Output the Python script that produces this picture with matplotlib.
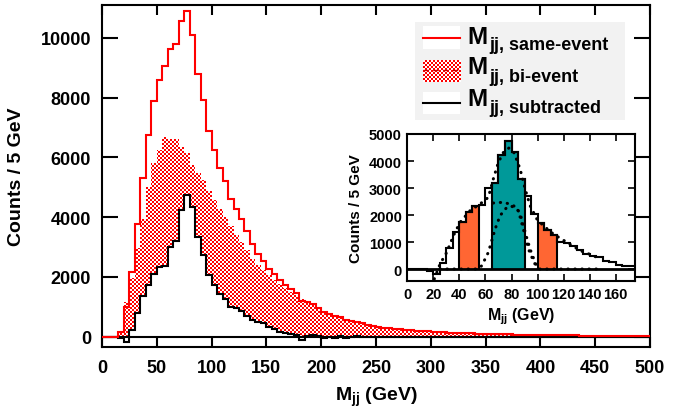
import numpy as np
import matplotlib
matplotlib.use('Agg')
import matplotlib.pyplot as plt
from matplotlib.patches import Rectangle
from matplotlib.lines import Line2D

plt.rcParams['font.family'] = ['Liberation Sans', 'DejaVu Sans']
plt.rcParams['font.weight'] = 'bold'
plt.rcParams['axes.labelweight'] = 'bold'
plt.rcParams['mathtext.fontset'] = 'custom'
plt.rcParams['mathtext.rm'] = 'Liberation Sans:bold'
plt.rcParams['mathtext.bf'] = 'Liberation Sans:bold'
plt.rcParams['mathtext.it'] = 'Liberation Sans:bold'
plt.rcParams['mathtext.default'] = 'bf'

# ---------------- data ----------------
bin_edges = list(range(0, 505, 5))   # 5 GeV bins, 0-500 GeV

same_event = [
    0, 0, 0, 140, 980, 2170, 3770, 5300, 6750, 7900,
    8590, 9050, 9630, 9800, 10560, 10890, 10080, 8790, 7920, 6890,
    6260, 5650, 5220, 4620, 4280, 3920, 3520, 3100, 2780, 2520,
    2250, 2100, 1900, 1720, 1580, 1450, 1180, 1150, 1080, 960,
    830, 760, 680, 650, 560, 530, 490, 440, 400, 360,
    320, 300, 280, 260, 240, 225, 210, 195, 185, 170,
    160, 150, 140, 132, 125, 117, 110, 105, 100, 95,
    90, 85, 80, 76, 72, 68, 65, 61, 58, 55,
    52, 49, 46, 43, 41, 39, 37, 35, 33, 31,
    29, 27, 26, 24, 23, 22, 20, 19, 18, 17]

bi_event = [
    0, 0, 0, 200, 1150, 1950, 2980, 3940, 5020, 5800,
    6250, 6690, 6620, 6620, 6340, 6140, 5730, 5460, 5250, 4880,
    4580, 4260, 4010, 3700, 3400, 3150, 2900, 2600, 2400, 2220,
    2050, 1900, 1760, 1610, 1490, 1380, 1270, 1130, 1040, 950,
    870, 790, 720, 640, 600, 550, 490, 450, 410, 370,
    330, 305, 282, 262, 243, 226, 211, 197, 185, 172,
    162, 151, 141, 133, 126, 118, 111, 106, 100, 96,
    91, 86, 81, 76, 72, 69, 65, 62, 58, 55,
    52, 49, 46, 43, 41, 39, 37, 35, 33, 31,
    29, 27, 26, 24, 23, 22, 20, 19, 18, 17]

subtracted = [
    0, 0, 0, -60, -190, 220, 790, 1360, 1730, 2100,
    2340, 2360, 3010, 3190, 4220, 4750, 4350, 3330, 2720, 2050,
    1710, 1440, 1260, 990, 960, 850, 700, 560, 490, 440,
    310, 250, 150, 120, 100, 60, -110, 20, 40, 10,
    -40, -30, -40, 10, -50, -20, 10, -10, -20, -10,
    0, -5, -2, -3, -3, -1, -1, -2, 0, -2,
    0, 0, 0, 0, 0, 0, 0, 0, 0, 0,
    0, 0, 0, 0, 0, 0, 0, 0, 0, 0,
    0, 0, 0, 0, 0, 0, 0, 0, 0, 0,
    0, 0, 0, 0, 0, 0, 0, 0, 0, 0]

# inset windows (GeV)
inset_xmax = 175
sideband_low = (40, 55)
signal_window = (65, 90)
sideband_high = (100, 115)

# dotted fit curves
fit_total_x = [20.6, 25, 30.2, 35.3, 40.4, 48.1, 55.8, 62.2, 66, 69.9, 73.8, 78, 82,
               86.6, 90.5, 94.3, 99.5, 104.5, 112.2, 122.6, 133.1, 143, 148.1]
fit_total_y = [-370, 185, 618, 1233, 1728, 2160, 2407, 2655, 3333, 3951, 4321, 4480, 4300,
               3704, 2963, 2345, 1852, 1605, 1296, 988, 678, 493, 370]
fit_sig_x = [25, 40, 54, 57.1, 62.2, 67.4, 71.2, 76.4, 80.2, 85.3, 89.1, 93, 96.8, 100]
fit_sig_y = [0, 0, 0, 120, 618, 1481, 1975, 2285, 2322, 2160, 1481, 740, 308, 0]
fit_bkg_x = [66, 70, 74, 79, 84, 88, 90.5, 94.3, 98.1, 100.7, 125, 150]
fit_bkg_y = [2444, 2460, 2470, 2400, 2285, 1852, 1358, 740, 250, 0, 0, 0]

legend_labels = ['jj, same-event', 'jj, bi-event', 'jj, subtracted']

# ---------------- figure ----------------
W, H = 686, 414
fig = plt.figure(figsize=(W / 100, H / 100), dpi=100)


def fig_rect(x0, y0, x1, y1):
    return [x0 / W, 1 - y1 / H, (x1 - x0) / W, (y1 - y0) / H]


def fx(x):
    return x / W


def fy(y):
    return 1 - y / H


edges = np.array(bin_edges, dtype=float)
same = np.array(same_event, dtype=float)
bi = np.array(bi_event, dtype=float)
sub = np.array(subtracted, dtype=float)

ax = fig.add_axes(fig_rect(102, 6, 650, 348))
XLIM = (0, 500)
YLIM = (-350, 11100)

# checkerboard fill for bi-event
ny, nx = 171, 274
chk = np.add.outer(np.arange(ny), np.arange(nx)) % 2
rgb = np.ones((ny, nx, 3))
rgb[chk == 1] = [1.0, 0.0, 0.0]
bi_patch = ax.stairs(bi, edges, fill=True, facecolor='none', edgecolor='none', baseline=0)
im = ax.imshow(rgb, extent=(XLIM[0], XLIM[1], YLIM[0], YLIM[1]), aspect='auto',
               interpolation='none', zorder=1)
im.set_clip_path(bi_patch)

ax.stairs(sub, edges, fill=True, facecolor='white', edgecolor='none', zorder=2, baseline=0)
ax.axhline(0, color='black', lw=1.5, zorder=3)
ax.stairs(sub, edges, color='black', lw=1.5, zorder=3, baseline=None)
ax.stairs(same, edges, color='red', lw=1.5, zorder=4, baseline=None)

ax.set_xlim(*XLIM)
ax.set_ylim(*YLIM)
ax.set_xticks(np.arange(0, 501, 50))
ax.set_yticks(np.arange(0, 10001, 2000))
ax.tick_params(direction='in', top=True, right=True, labelsize=13, width=1.5)
ax.tick_params(axis='x', length=7.5, pad=9)
ax.tick_params(axis='y', length=11.5, pad=8)
for s in ax.spines.values():
    s.set_linewidth(1.5)
ax.set_xlabel(r'$\mathbf{M}_{\mathbf{jj}}$ (GeV)', fontsize=14, labelpad=6)
ax.set_ylabel('Counts / 5 GeV', fontsize=14)
ax.yaxis.set_label_coords((25 - 102) / 548, 0.5)

# ---------------- legend (manual) ----------------
fig.add_artist(Rectangle((fx(415), fy(121)), (625 - 415) / W, (121 - 23) / H,
                         transform=fig.transFigure, facecolor='#f2f2f2', edgecolor='none', zorder=5))
fig.add_artist(Rectangle((fx(423), fy(50)), 37 / W, 23 / H, transform=fig.transFigure,
                         facecolor='white', edgecolor='none', zorder=6))
fig.add_artist(Line2D([fx(423), fx(460)], [fy(39), fy(39)], transform=fig.transFigure,
                      color='red', lw=1.5, zorder=7))
fig.add_artist(Rectangle((fx(423), fy(115)), 37 / W, 22 / H, transform=fig.transFigure,
                         facecolor='white', edgecolor='none', zorder=6))
fig.add_artist(Line2D([fx(423), fx(460)], [fy(104), fy(104)], transform=fig.transFigure,
                      color='black', lw=1.5, zorder=7))
hc = np.add.outer(np.arange(11), np.arange(19)) % 2
hrgb = np.ones((11, 19, 3))
hrgb[hc == 1] = [1.0, 0.0, 0.0]
hrgb = np.kron(hrgb, np.ones((2, 2, 1)))
fig.figimage(hrgb, xo=423, yo=H - 83, origin='upper', zorder=6)
fig.add_artist(Line2D([fx(423), fx(460)], [fy(71), fy(71)], transform=fig.transFigure,
                      color='#cc0000', lw=1.0, ls=(0, (4, 3)), zorder=7))

m_base = [43.5, 73.5, 105.5]
s_base = [50.5, 81.5, 113]
for lab, mb, sb in zip(legend_labels, m_base, s_base):
    fig.text(fx(467), fy(mb), 'M', fontsize=17.5, va='baseline', ha='left', zorder=8)
    fig.text(fx(489), fy(sb), lab, fontsize=13, va='baseline', ha='left', zorder=8)

# ---------------- inset ----------------
ax2 = fig.add_axes(fig_rect(407.5, 135, 635, 282.3))
n_in = int(np.searchsorted(edges, inset_xmax))
ax2.stairs(sub[:n_in], edges[:n_in + 1], color='black', lw=1.5, baseline=None, zorder=3)
for (lo, hi), col in [(sideband_low, '#ff6633'), (signal_window, '#009999'), (sideband_high, '#ff6633')]:
    i0 = int(np.searchsorted(edges, lo))
    i1 = int(np.searchsorted(edges, hi))
    ax2.stairs(sub[i0:i1], edges[i0:i1 + 1], fill=True, facecolor=col, edgecolor='none', zorder=2)
    ax2.stairs(sub[i0:i1], edges[i0:i1 + 1], fill=False, color='black', lw=1.5, baseline=0, zorder=3)
ax2.axhline(0, color='black', lw=2, zorder=3)
dot = dict(color='black', lw=2.2, ls=(0, (0.1, 2.2)), dash_capstyle='round', zorder=4)
ax2.plot(fit_total_x, fit_total_y, **dot)
ax2.plot(fit_sig_x, fit_sig_y, **dot)
ax2.plot(fit_bkg_x, fit_bkg_y, **dot)
ax2.set_xlim(0, inset_xmax)
ax2.set_ylim(-455, 5000)
ax2.set_xticks(np.arange(0, 161, 20))
ax2.set_yticks(np.arange(0, 5001, 1000))
ax2.tick_params(direction='in', top=True, right=True, labelsize=10.5, width=1.2, length=5, pad=4)
for s in ax2.spines.values():
    s.set_linewidth(1.5)
ax2.set_xlabel(r'$\mathbf{M}_{\mathbf{jj}}$ (GeV)', fontsize=11.5, labelpad=3)
ax2.set_ylabel('Counts / 5 GeV', fontsize=11)

fig.savefig('out.png', dpi=100)
